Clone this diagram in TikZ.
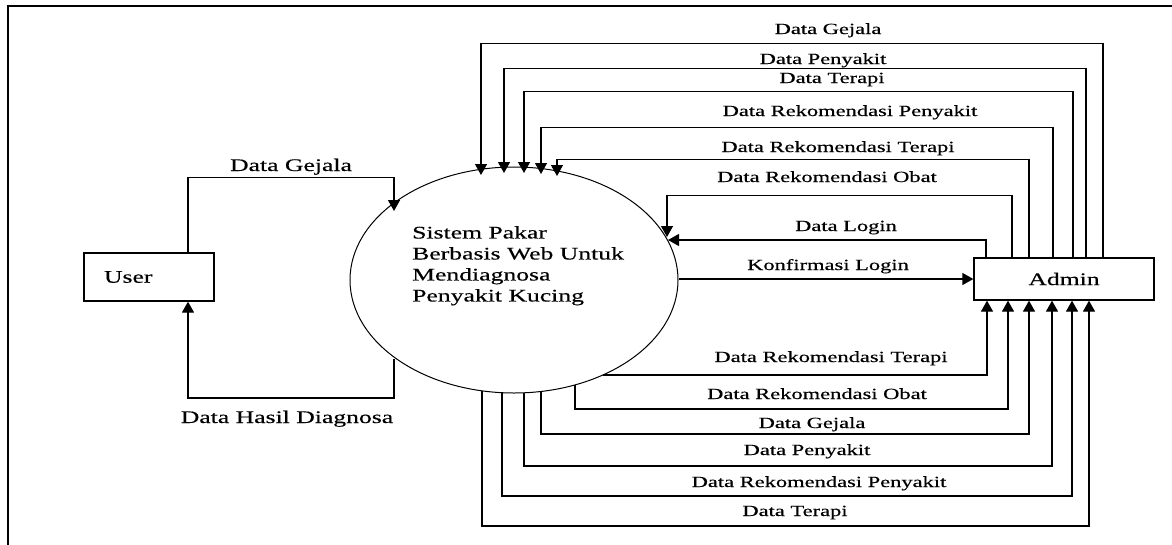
\documentclass[tikz,border=0pt]{standalone}
\usepackage{fontspec}
\setmainfont{Liberation Serif}[FakeStretch=1.45, FakeBold=0.4]
\usetikzlibrary{positioning,calc,shapes,arrows.meta}

\tikzset{
  box/.style={draw, line width=1.3pt, inner sep=0pt, font=\fontsize{17.7}{21}\selectfont},
  flow/.style={line width=1.3pt, -{Triangle[length=11pt,width=12pt]}},
  lbl/.style={font=\fontsize{15.5}{18}\selectfont, anchor=base, inner sep=0pt},
  lblbig/.style={font=\fontsize{17.7}{21}\selectfont, anchor=base, inner sep=0pt},
}

\begin{document}
\begin{tikzpicture}[x=1pt, y=-1pt]
	\useasboundingbox (0,0) rectangle (1172,544);
	\draw[line width=2pt] (1180,6) -- (8,6) -- (8,550);

	% entities and process
	\node[box, minimum width=130pt, minimum height=48pt, text width=90pt, inner xsep=20pt, align=left] (user) at (149,277) {User};
	\node[box, minimum width=180pt, minimum height=42pt] (admin) at (1064,279) {Admin};
	\node[draw, ellipse, line width=1pt, minimum width=328pt, minimum height=226pt, inner sep=0pt] (sys) at (514,280) {};
	\node[lblbig, anchor=north west, align=left] (systxt) at (412,226) {Sistem Pakar\\Berbasis Web Untuk\\Mendiagnosa\\Penyakit Kucing};

	% ends on the circle
	\coordinate (inUser) at (394,211);
	\coordinate (outUser) at (394,359);
	\coordinate (inGejala) at (481,175);
	\coordinate (inPenyakit) at (504,173);
	\coordinate (inTerapi) at (524,173);
	\coordinate (inRekPenyakit) at (541,174);
	\coordinate (inRekTerapi) at (557,176);
	\coordinate (inRekObat) at (667,237);
	\coordinate (inLogin) at (668,240);
	\coordinate (outRekTerapi) at (603,375);
	\coordinate (outRekObat) at (575,385);
	\coordinate (outGejala) at (541,391.5);
	\coordinate (outPenyakit) at (524,392.8);
	\coordinate (outRekPenyakit) at (502,392.7);
	\coordinate (outTerapi) at (482,390.8);

	% user flows
	\draw[flow] ([xshift=39pt]user.north) -- ++(0,-75) -| (inUser);
	\draw[flow] (outUser) -- ++(0,39) -| ([xshift=39pt]user.south);
	\node[lblbig] (lUserGejala) at (291,171) {Data Gejala};
	\node[lblbig] (lUserHasil) at (287,423) {Data Hasil Diagnosa};

	% admin to system
	\draw[flow] ([xshift=39pt]admin.north) -- ++(0,-214) -| (inGejala);
	\draw[flow] ([xshift=22pt]admin.north) -- ++(0,-189) -| (inPenyakit);
	\draw[flow] ([xshift=9pt]admin.north) -- ++(0,-166) -| (inTerapi);
	\draw[flow] ([xshift=-11pt]admin.north) -- ++(0,-130) -| (inRekPenyakit);
	\draw[flow] ([xshift=-35pt]admin.north) -- ++(0,-98) -| (inRekTerapi);
	\draw[flow] ([xshift=-52pt]admin.north) -- ++(0,-62) -| (inRekObat);
	\draw[flow] ([xshift=-78pt]admin.north) |- (inLogin);
	\node[lbl] (lGejalaT) at (828,34) {Data Gejala};
	\node[lbl] (lPenyakitT) at (823,64) {Data Penyakit};
	\node[lbl] (lTerapiT) at (832,83) {Data Terapi};
	\node[lbl] (lRekPenyakitT) at (850,116) {Data Rekomendasi Penyakit};
	\node[lbl] (lRekTerapiT) at (838,152) {Data Rekomendasi Terapi};
	\node[lbl] (lRekObatT) at (827,182) {Data Rekomendasi Obat};
	\node[lbl] (lLogin) at (846,231) {Data Login};

	% system to admin
	\draw[flow] (sys.east |- admin.west) -- (admin.west);
	\node[lbl] (lKonfirmasi) at (828,270) {Konfirmasi Login};
	\draw[flow] (outRekTerapi) -| ([xshift=-77pt]admin.south);
	\draw[flow] (outRekObat) -- ++(0,24) -| ([xshift=-56pt]admin.south);
	\draw[flow] (outGejala) -- ++(0,42.5) -| ([xshift=-35pt]admin.south);
	\draw[flow] (outPenyakit) -- ++(0,73.2) -| ([xshift=-12pt]admin.south);
	\draw[flow] (outRekPenyakit) -- ++(0,103.3) -| ([xshift=8pt]admin.south);
	\draw[flow] (outTerapi) -- ++(0,135.2) -| ([xshift=25pt]admin.south);
	\node[lbl] (lRekTerapiB) at (831,362) {Data Rekomendasi Terapi};
	\node[lbl] (lRekObatB) at (817,399) {Data Rekomendasi Obat};
	\node[lbl] (lGejalaB) at (812,428) {Data Gejala};
	\node[lbl] (lPenyakitB) at (807,455) {Data Penyakit};
	\node[lbl] (lRekPenyakitB) at (819,487) {Data Rekomendasi Penyakit};
	\node[lbl] (lTerapiB) at (795,516) {Data Terapi};
\end{tikzpicture}
\end{document}
